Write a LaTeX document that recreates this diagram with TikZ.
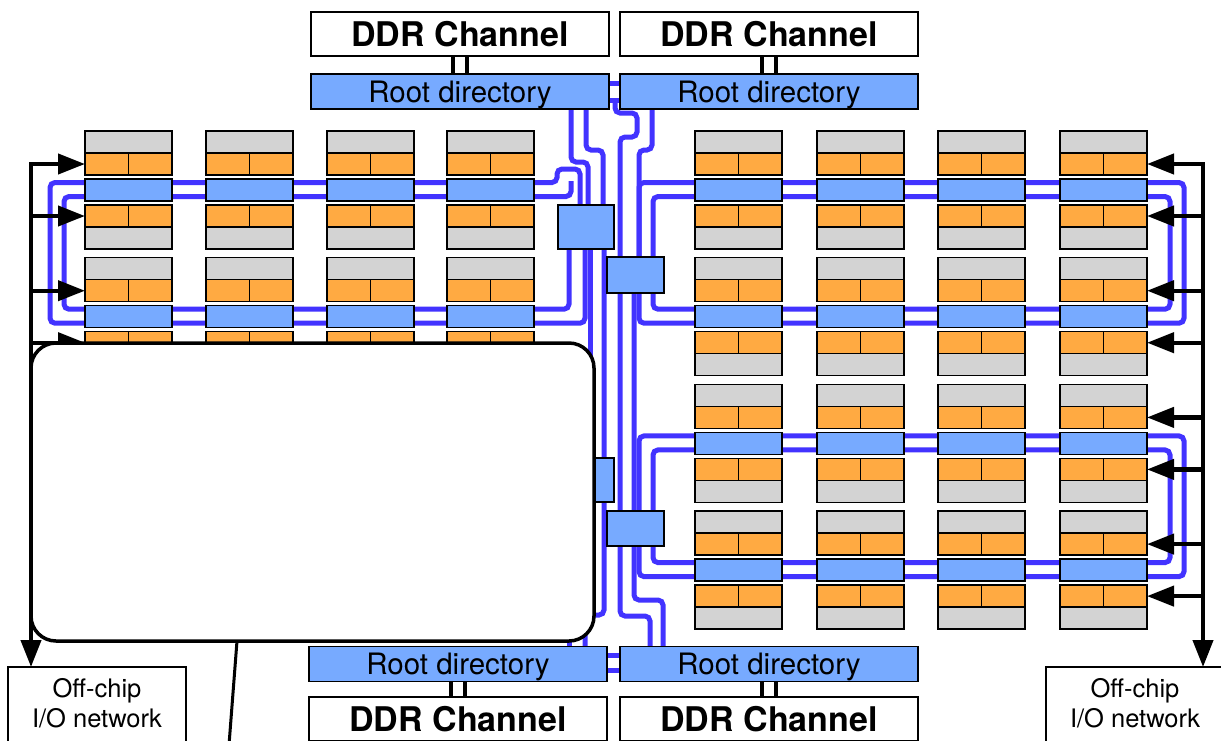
\documentclass[tikz,border=0pt]{standalone}
\usepackage{fontspec}
\setmainfont{TeX Gyre Heros}
\usetikzlibrary{arrows.meta,positioning}
\pgfdeclarelayer{background}
\pgfsetlayers{background,main}

\definecolor{tilegray}{RGB}{211,211,211}
\definecolor{tileorange}{RGB}{255,170,66}
\definecolor{rtblue}{RGB}{119,170,255}
\definecolor{netblue}{RGB}{66,51,255}

% router with one tile above and one below
\newcommand{\corepair}[4]{%
  \node[graybox, anchor=north west] (ga#1#2) at (#3,#4) {};
  \node[orangebox, anchor=north west] (oa#1#2) at (#3,#4+22) {};
  \draw[line width=1.5pt] (oa#1#2.north) -- (oa#1#2.south);
  \node[router, anchor=north west] (r#1#2) at (#3,#4+48) {};
  \node[orangebox, anchor=north west] (ob#1#2) at (#3,#4+74) {};
  \draw[line width=1.5pt] (ob#1#2.north) -- (ob#1#2.south);
  \node[graybox, anchor=north west] (gb#1#2) at (#3,#4+96) {};
}

\begin{document}
\begin{tikzpicture}
[
x=1pt, y=-1pt,
every node/.style={inner sep=0pt, outer sep=0pt},
graybox/.style={draw, line width=1.5pt, fill=tilegray, minimum width=87pt, minimum height=22pt},
orangebox/.style={graybox, fill=tileorange},
router/.style={graybox, fill=rtblue},
xbar/.style={draw, line width=1.5pt, fill=rtblue},
rootdir/.style={draw, line width=1.2pt, fill=rtblue, minimum width=298pt, minimum height=35pt, text depth=0pt, font=\fontsize{29.5}{32}\selectfont},
ddr/.style={draw, line width=1.2pt, fill=white, minimum width=298pt, minimum height=44pt, font=\fontsize{34}{36}\selectfont\bfseries},
iobox/.style={draw, line width=1.2pt, fill=white, minimum width=178pt, minimum height=100pt},
iolabel/.style={align=center, font=\fontsize{25.5}{30}\selectfont},
wire/.style={netblue, line width=5pt, rounded corners=5pt},
ctrl/.style={line width=4.2pt, line cap=rect, -{Triangle[length=27pt,width=20pt]}},
link/.style={line width=3.5pt}
]
\useasboundingbox (0,0) rectangle (1221,740);
\clip (0,0) rectangle (1221,740);

% tiles
\foreach \c/\x in {1/85,2/206,3/327,4/447}
  \foreach \p/\y in {1/131,2/257.7}
    {\corepair{\c}{\p}{\x}{\y}}
\foreach \c/\x in {5/695,6/817,7/938,8/1060}
  \foreach \p/\y in {1/131,2/257.7,3/384.4,4/511.1}
    {\corepair{\c}{\p}{\x}{\y}}

\node[xbar, minimum width=56pt, minimum height=44pt] (xb1) at (586,227) {};
\node[xbar, minimum width=57pt, minimum height=36pt] (xb2) at (635.5,275) {};
\node[xbar, minimum width=56pt, minimum height=44pt] (xb3) at (586,480) {};
\node[xbar, minimum width=57pt, minimum height=35pt] (xb4) at (635.5,528.5) {};

\node[ddr] (ddrTL) at (460,34) {DDR Channel};
\node[ddr] (ddrTR) at (769,34) {DDR Channel};
\node[rootdir] (rootTL) at (460,91.5) {Root directory};
\node[rootdir] (rootTR) at (769,91.5) {Root directory};
\node[rootdir] (rootBL) at (458,664) {Root directory};
\node[rootdir] (rootBR) at (769,664) {Root directory};
\node[ddr] (ddrBL) at (458,719) {DDR Channel};
\node[ddr] (ddrBR) at (769,719) {DDR Channel};

\begin{pgfonlayer}{background}
\foreach \d/\r in {ddrTL/rootTL,ddrTR/rootTR,ddrBL/rootBL,ddrBR/rootBR}
  \foreach \s in {-7,7}
    \draw[link] ([xshift=\s pt]\d.center) -- ([xshift=\s pt]\r.center);

% left rings into xb1
\draw[wire] (xb1.north -| 580,0) |- (557,169) |- (50,182.5) |- (585,323.2) -- (xb1.south -| 585,0);
\draw[wire] (571,181) |- (64,196.5) |- (569,309.2) -- (xb1.south -| 569,0);
\draw[wire] (rootTL.south -| 571,0) |- (588,162) -- (xb1.north -| 588,0);
\draw[wire] (rootTL.south -| 586,0) |- (603,150) -- (xb1.north -| 603,0);
\draw[wire] (xb1.south -| 604,0) -- (604,615) -| (rootBL.north -| 585,0);
\draw[wire] (xb1.south -| 590,0) -- (xb3.north -| 590,0);
\draw[wire] (xb3.south -| 569,0) -- (rootBL.north -| 569,0);

% between the root directories
\foreach \y in {83,100}
  \draw[wire] (rootTL.east |- 0,\y) -- (rootTR.west |- 0,\y);
\foreach \y in {655,670}
  \draw[wire] (rootBL.east |- 0,\y) -- (rootBR.west |- 0,\y);
\draw[wire] (615,100) |- (637,113) |- (620,137) -- (620,616) -| (rootBR.north -| 650,0);
\draw[wire] (rootTR.south -| 652,0) |- (639,150) -- (639,275) -| (634,285) -- (634,600) -| (rootBR.north -| 663,0);

% right rings
\draw[wire] (639,182.5) rectangle (1184,323.2);
\draw[wire] (653,196.5) rectangle (1170,309.2);
\draw[wire] (639,435.9) rectangle (1184,576.6);
\draw[wire] (653,449.9) rectangle (1170,562.6);
\end{pgfonlayer}

\node[iobox, anchor=north west] (ioL) at (8,667) {};
\node[iolabel, below=11pt of ioL.north] (ioLtext) {Off-chip\\I/O network};
\node[iobox, anchor=north west] (ioR) at (1046,667) {};
\node[iolabel, below=11pt of ioR.north] (ioRtext) {Off-chip\\I/O network};

% off-chip links
\coordinate (busL) at (oa11.west -| 31,0);
\coordinate (busR) at (oa81.east -| 1203,0);
\foreach \t in {oa11,ob11,oa12,ob12}
  \draw[ctrl] (\t.west -| busL) -- (\t.west);
\draw[ctrl] (busL) -- (busL |- ioL.north);
\foreach \t in {oa81,ob81,oa82,ob82,oa83,ob83,oa84,ob84}
  \draw[ctrl] (\t.east -| busR) -- (\t.east);
\draw[ctrl] (busR) -- (busR |- ioR.north);

\node[draw, line width=3.5pt, fill=white, rounded corners=25pt, anchor=north west,
  minimum width=563pt, minimum height=298pt] (callout) at (31,343) {};
\coordinate (pin) at (callout.south -| 237,0);
\coordinate (pinend) at (229,745);
\draw[line width=3pt] (pin) -- (pinend);
\end{tikzpicture}
\end{document}
